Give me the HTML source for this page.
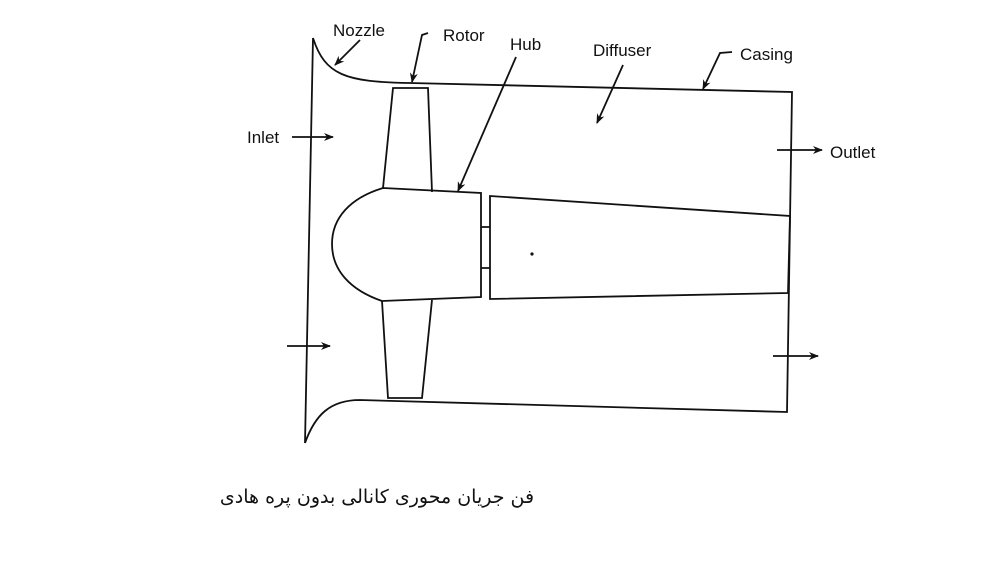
<!DOCTYPE html>
<html><head><meta charset="utf-8"><style>
html,body{margin:0;padding:0;background:#fff;}
svg{display:block;}
text{font-family:"Liberation Sans",Arial,sans-serif;font-size:17px;fill:#111;}
</style></head><body>
<svg width="1008" height="562" viewBox="0 0 1008 562" xmlns="http://www.w3.org/2000/svg">
<defs><marker id="a" markerWidth="10" markerHeight="8" refX="9" refY="4" orient="auto" markerUnits="userSpaceOnUse"><path d="M0,0 L10,4 L0,8 L3,4 Z" fill="#111"/></marker></defs>
<g fill="none" stroke="#111" stroke-width="1.8">
<path d="M313,38 L305,443"/>
<path d="M313,38 C325,75 345,82 410,83 L792,92 L787,412 L360,400 C330,400 315,415 305,443"/>
<path d="M383,188 L393,88 L428,88 L432,192"/>
<path d="M383,188 L481,193 L481,297 L382,301 C350,290 332,270 332,244 C332,218 350,198 383,188 Z"/>
<path d="M382,301 L388,398 L422,398 L432,300"/>
<path d="M481,227 L490,227 M481,268 L490,268"/>
<path d="M490,196 L790,216 L788,293 L490,299 Z"/>
<path d="M292,137 L333,137" marker-end="url(#a)"/>
<path d="M287,346 L330,346" marker-end="url(#a)"/>
<path d="M777,150 L822,150" marker-end="url(#a)"/>
<path d="M773,356 L818,356" marker-end="url(#a)"/>
<path d="M360,40 L335,65" marker-end="url(#a)"/>
<path d="M428,33 L422,35 L412,82" marker-end="url(#a)"/>
<path d="M516,57 L458,191" marker-end="url(#a)"/>
<path d="M623,65 L597,123" marker-end="url(#a)"/>
<path d="M732,52 L720,53 L703,89" marker-end="url(#a)"/>
</g>
<circle cx="532" cy="254" r="1.6" fill="#111"/>
<text x="333" y="36">Nozzle</text>
<text x="443" y="41">Rotor</text>
<text x="510" y="50">Hub</text>
<text x="593" y="56">Diffuser</text>
<text x="740" y="60">Casing</text>
<text x="247" y="143">Inlet</text>
<text x="830" y="158">Outlet</text>
<text x="377" y="503" text-anchor="middle" style='font-family:"DejaVu Sans",sans-serif;font-size:19px'>فن جریان محوری کانالی بدون پره هادی</text>
</svg>
</body></html>
